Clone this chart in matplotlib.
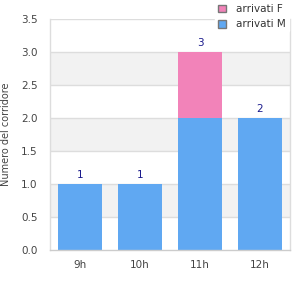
import matplotlib
matplotlib.use("Agg")
import matplotlib.pyplot as plt
import numpy as np
from matplotlib.patches import Patch

# data
hours = ['9h', '10h', '11h', '12h']
arrivati_m = [1, 1, 2, 2]
arrivati_f = [0, 0, 1, 0]
yticks = [0.0, 0.5, 1.0, 1.5, 2.0, 2.5, 3.0, 3.5]

PINK = '#f283b9'
BLUE = '#60a8f2'
GRID = '#dddddd'
TXT = '#444444'

fig = plt.figure(figsize=(3, 3), dpi=100)
ax = fig.add_axes([50 / 300, 50 / 300, 240 / 300, 231 / 300])

x = np.arange(len(hours))
ax.set_xlim(-0.5, len(hours) - 0.5)
ax.set_ylim(0, 3.5)

# alternating bands
for lo in yticks[1::2]:
    ax.axhspan(lo, lo + 0.5, color='#f2f2f2', zorder=0, lw=0)
for v in yticks[1:]:
    ax.axhline(v, color=GRID, lw=1, zorder=0.5)

ax.bar(x, arrivati_m, width=0.72, color=BLUE, zorder=2)
ax.bar(x, arrivati_f, width=0.72, bottom=arrivati_m, color=PINK, zorder=2)

totals = np.array(arrivati_m) + np.array(arrivati_f)
for xi, t in zip(x, totals):
    ax.text(xi, t + 0.06, str(t), ha='center', va='bottom',
            color='#1a1a8c', fontsize=7.5)

ax.set_xticks(x)
ax.set_xticklabels(hours)
ax.set_yticks(yticks)
ax.set_yticklabels([f'{v:.1f}' for v in yticks])
ax.tick_params(axis='both', length=0, colors=TXT, labelsize=7.5)
ax.tick_params(axis='x', pad=7)
ax.tick_params(axis='y', pad=9)
ax.set_ylabel('Numero del corridore', color=TXT, fontsize=7, labelpad=7)

ax.spines['top'].set_visible(False)
ax.spines['left'].set_color(GRID)
ax.spines['right'].set_color(GRID)
ax.spines['bottom'].set_color('#cccccc')
for s in ['left', 'right', 'bottom']:
    ax.spines[s].set_linewidth(1)

handles = [Patch(facecolor=PINK, edgecolor='#777777', label='arrivati F'),
           Patch(facecolor=BLUE, edgecolor='#777777', label='arrivati M')]
leg = fig.legend(handles=handles, loc='upper left', bbox_to_anchor=(215 / 300, 0.995),
                 frameon=True, fontsize=7.5, handlelength=0.8, handleheight=0.8,
                 handletextpad=1.0, labelspacing=0.5, borderpad=0.25,
                 borderaxespad=0)
leg.set_zorder(5)
leg.get_frame().set_facecolor('white')
leg.get_frame().set_edgecolor('white')
leg.get_frame().set_alpha(1)
for t in leg.get_texts():
    t.set_color('#333333')

fig.savefig('out.png', dpi=100)
